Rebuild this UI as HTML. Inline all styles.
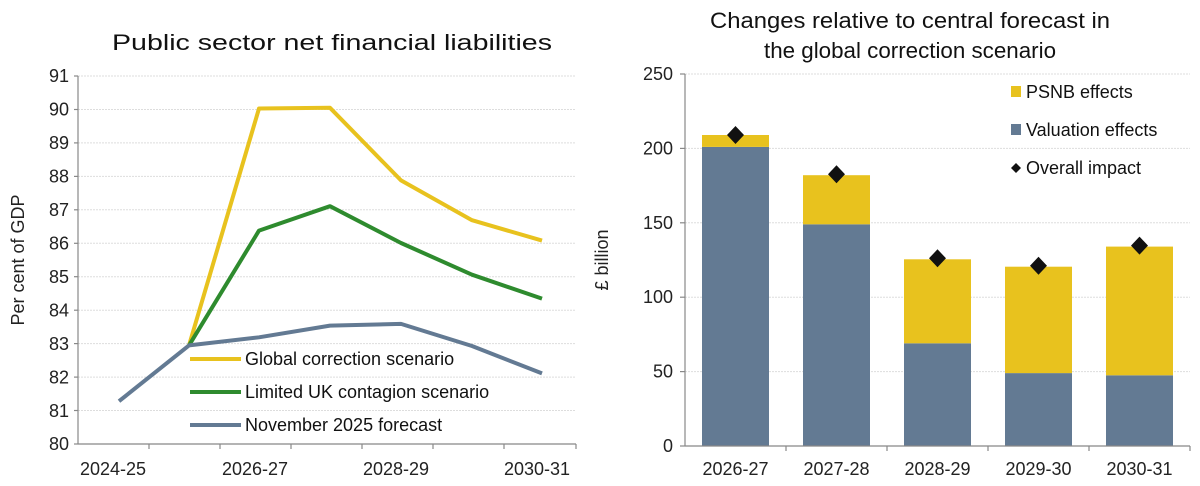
<!DOCTYPE html>
<html><head><meta charset="utf-8"><style>
html,body{margin:0;padding:0;background:#fff;}
svg{display:block;font-family:"Liberation Sans",sans-serif;}
</style></head><body>
<svg width="1200" height="486" viewBox="0 0 1200 486" xmlns="http://www.w3.org/2000/svg">
<!-- LEFT CHART -->
<text x="332" y="50" font-size="22" text-anchor="middle" fill="#111" textLength="440" lengthAdjust="spacingAndGlyphs">Public sector net financial liabilities</text>
<g stroke="#ddd" stroke-width="1" stroke-dasharray="2,1">
<line x1="78" x2="576" y1="76.0" y2="76.0"/><line x1="78" x2="576" y1="109.5" y2="109.5"/>
<line x1="78" x2="576" y1="142.9" y2="142.9"/><line x1="78" x2="576" y1="176.4" y2="176.4"/>
<line x1="78" x2="576" y1="209.8" y2="209.8"/><line x1="78" x2="576" y1="243.3" y2="243.3"/>
<line x1="78" x2="576" y1="276.7" y2="276.7"/><line x1="78" x2="576" y1="310.2" y2="310.2"/>
<line x1="78" x2="576" y1="343.6" y2="343.6"/><line x1="78" x2="576" y1="377.1" y2="377.1"/>
<line x1="78" x2="576" y1="410.5" y2="410.5"/>
</g>
<g stroke="#888" stroke-width="1.2">
<line x1="78" y1="76" x2="78" y2="444"/><line x1="78" y1="444" x2="576" y2="444"/>
<line x1="74" x2="78" y1="76.0" y2="76.0"/><line x1="74" x2="78" y1="109.5" y2="109.5"/><line x1="74" x2="78" y1="142.9" y2="142.9"/><line x1="74" x2="78" y1="176.4" y2="176.4"/><line x1="74" x2="78" y1="209.8" y2="209.8"/><line x1="74" x2="78" y1="243.3" y2="243.3"/><line x1="74" x2="78" y1="276.7" y2="276.7"/><line x1="74" x2="78" y1="310.2" y2="310.2"/><line x1="74" x2="78" y1="343.6" y2="343.6"/><line x1="74" x2="78" y1="377.1" y2="377.1"/><line x1="74" x2="78" y1="410.5" y2="410.5"/><line x1="74" x2="78" y1="444" y2="444"/>
<line x1="149" x2="149" y1="444" y2="449"/><line x1="220" x2="220" y1="444" y2="449"/><line x1="291" x2="291" y1="444" y2="449"/><line x1="362" x2="362" y1="444" y2="449"/><line x1="433" x2="433" y1="444" y2="449"/><line x1="504" x2="504" y1="444" y2="449"/><line x1="576" x2="576" y1="444" y2="449"/>
</g>
<g font-size="18" fill="#222" text-anchor="end">
<text x="69" y="82">91</text><text x="69" y="115.5">90</text><text x="69" y="149">89</text><text x="69" y="182.5">88</text><text x="69" y="216">87</text><text x="69" y="249.5">86</text><text x="69" y="283">85</text><text x="69" y="316.5">84</text><text x="69" y="350">83</text><text x="69" y="383.5">82</text><text x="69" y="417">81</text><text x="69" y="450">80</text>
</g>
<g font-size="18" fill="#222" text-anchor="middle">
<text x="113" y="475">2024-25</text><text x="255" y="475">2026-27</text><text x="396" y="475">2028-29</text><text x="537" y="475">2030-31</text>
</g>
<text transform="translate(24,260) rotate(-90)" font-size="18" fill="#222" text-anchor="middle">Per cent of GDP</text>
<g fill="none" stroke-width="4" stroke-linejoin="round">
<polyline stroke="#E8C21E" points="189,345.4 259,108.5 330,107.8 401,180.4 472,220.2 542,240.6"/>
<polyline stroke="#2E8B2E" points="189,345.4 259,230.6 330,206.2 401,243.0 472,274.7 542,298.6"/>
<polyline stroke="#637A93" points="119,401.2 189,345.4 259,337.3 330,325.6 401,323.9 472,346.0 542,373.4"/>
</g>
<g stroke-width="4">
<line x1="190" x2="241" y1="359" y2="359" stroke="#E8C21E"/>
<line x1="190" x2="241" y1="392" y2="392" stroke="#2E8B2E"/>
<line x1="190" x2="241" y1="425" y2="425" stroke="#637A93"/>
</g>
<g font-size="18" fill="#111">
<text x="245" y="365">Global correction scenario</text>
<text x="245" y="398">Limited UK contagion scenario</text>
<text x="245" y="431">November 2025 forecast</text>
</g>

<!-- RIGHT CHART -->
<text x="910" y="28" font-size="22" text-anchor="middle" fill="#111" textLength="400" lengthAdjust="spacingAndGlyphs">Changes relative to central forecast in</text>
<text x="910" y="58" font-size="22" text-anchor="middle" fill="#111" textLength="292" lengthAdjust="spacingAndGlyphs">the global correction scenario</text>
<g stroke="#ddd" stroke-width="1" stroke-dasharray="2,1">
<line x1="685" x2="1190" y1="74" y2="74"/><line x1="685" x2="1190" y1="148.4" y2="148.4"/><line x1="685" x2="1190" y1="222.8" y2="222.8"/><line x1="685" x2="1190" y1="297.2" y2="297.2"/><line x1="685" x2="1190" y1="371.6" y2="371.6"/>
</g>
<g>
<rect x="702" y="146.9" width="67" height="299.1" fill="#637A93"/><rect x="702" y="135.0" width="67" height="11.9" fill="#E8C21E"/>
<rect x="803" y="224.3" width="67" height="221.7" fill="#637A93"/><rect x="803" y="175.2" width="67" height="49.1" fill="#E8C21E"/>
<rect x="904" y="343.3" width="67" height="102.7" fill="#637A93"/><rect x="904" y="259.3" width="67" height="84.0" fill="#E8C21E"/>
<rect x="1005" y="373.1" width="67" height="72.9" fill="#637A93"/><rect x="1005" y="266.7" width="67" height="106.4" fill="#E8C21E"/>
<rect x="1106" y="375.3" width="67" height="70.7" fill="#637A93"/><rect x="1106" y="246.6" width="67" height="128.7" fill="#E8C21E"/>
</g>
<g fill="#111">
<polygon points="735.5,180 744,189 735.5,198 727,189" transform="translate(0,-54)"/>
<polygon points="836.5,165.2 845,174.2 836.5,183.2 828,174.2"/>
<polygon points="937.5,249.3 946,258.3 937.5,267.3 929,258.3"/>
<polygon points="1038.5,256.7 1047,265.7 1038.5,274.7 1030,265.7"/>
<polygon points="1139.5,236.6 1148,245.6 1139.5,254.6 1131,245.6"/>
</g>
<g stroke="#888" stroke-width="1.2">
<line x1="685" y1="74" x2="685" y2="446"/><line x1="685" y1="446" x2="1190" y2="446"/>
<line x1="680" x2="685" y1="74" y2="74"/><line x1="680" x2="685" y1="148.4" y2="148.4"/><line x1="680" x2="685" y1="222.8" y2="222.8"/><line x1="680" x2="685" y1="297.2" y2="297.2"/><line x1="680" x2="685" y1="371.6" y2="371.6"/><line x1="680" x2="685" y1="446" y2="446"/>
<line x1="786" x2="786" y1="446" y2="451"/><line x1="887" x2="887" y1="446" y2="451"/><line x1="988" x2="988" y1="446" y2="451"/><line x1="1089" x2="1089" y1="446" y2="451"/><line x1="1190" x2="1190" y1="446" y2="451"/>
</g>
<g font-size="18" fill="#222" text-anchor="end">
<text x="673" y="80">250</text><text x="673" y="154.4">200</text><text x="673" y="228.8">150</text><text x="673" y="303.2">100</text><text x="673" y="377.6">50</text><text x="673" y="452">0</text>
</g>
<g font-size="18" fill="#222" text-anchor="middle">
<text x="735.5" y="475">2026-27</text><text x="836.5" y="475">2027-28</text><text x="937.5" y="475">2028-29</text><text x="1038.5" y="475">2029-30</text><text x="1139.5" y="475">2030-31</text>
</g>
<text transform="translate(608,260) rotate(-90)" font-size="18" fill="#222" text-anchor="middle">£ billion</text>
<rect x="1011" y="86" width="10" height="11" fill="#E8C21E"/>
<rect x="1011" y="124" width="10" height="11" fill="#637A93"/>
<polygon points="1016,163 1021,168 1016,173 1011,168" fill="#111"/>
<g font-size="18" fill="#111">
<text x="1026" y="98">PSNB effects</text>
<text x="1026" y="136">Valuation effects</text>
<text x="1026" y="174">Overall impact</text>
</g>
</svg>
</body></html>
